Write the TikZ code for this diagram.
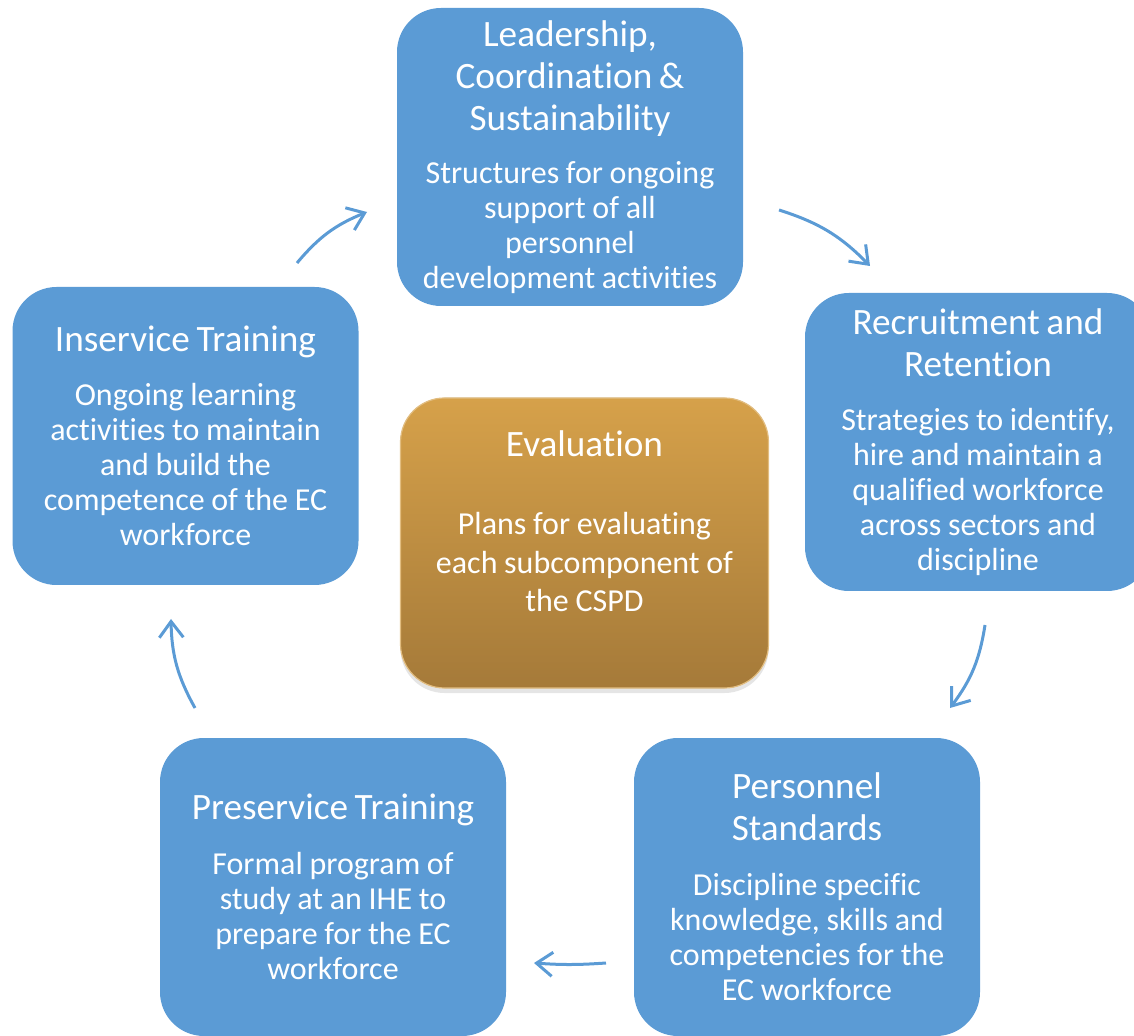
\documentclass[tikz,border=0pt]{standalone}
\usepackage{fontspec}
\setmainfont{Carlito}[Ligatures=NoCommon]
\usepackage{tikz}
\usetikzlibrary{arrows.meta,shadows}
\definecolor{boxblue}{RGB}{91,155,213}
\definecolor{evaltop}{RGB}{214,161,74}
\definecolor{evalbot}{RGB}{165,122,57}
\newcommand{\ttl}{\fontsize{18.6}{21}\selectfont}
\newcommand{\bdy}{\fontsize{16}{17.5}\selectfont}

\begin{document}
\begin{tikzpicture}[x=0.5pt,y=-0.5pt]
    \tikzset{block/.style = {shape=rectangle,rounded corners=22pt,fill=boxblue,text=white,
      minimum width=173pt,minimum height=149pt,text width=168pt,align=center,inner sep=0pt}}
    \tikzset{evalbox/.style = {block,top color=evaltop,bottom color=evalbot,draw=evaltop!70!white,
      line width=0.6pt,minimum width=184pt,minimum height=145pt,
      drop shadow={shadow xshift=0pt,shadow yshift=-2.5pt,fill=black!20}}}
    \tikzset{edge/.style = {-{Straight Barb[length=8pt,width=12pt]},draw=boxblue,line width=1.5pt,bend left=14}}

    \clip (0,0) rectangle (1134,1036);

    \node[block] (lead) at (570,157) {{\ttl Leadership,\\Coordination \&\\Sustainability\par}\vspace{9pt}
      {\bdy Structures for ongoing\\support of all\\personnel\\development activities\par}};
    \node[block] (recr) at (978,442) {{\ttl Recruitment and\\Retention\par}\vspace{9.5pt}
      {\bdy Strategies to identify,\\hire and maintain a\\qualified workforce\\across sectors and\\discipline\par}};
    \node[block] (pers) at (807,887) {{\ttl Personnel\\Standards\par}\vspace{10pt}
      {\bdy Discipline specific\\knowledge, skills and\\competencies for the\\EC workforce\par}};
    \node[block] (pres) at (333,887) {{\ttl Preservice Training\par}\vspace{10pt}
      {\bdy Formal program of\\study at an IHE to\\prepare for the EC\\workforce\par}};
    \node[block] (inserv) at (185.5,436) {{\ttl Inservice Training\par}\vspace{9.5pt}
      {\bdy Ongoing learning\\activities to maintain\\and build the\\competence of the EC\\workforce\par}};
    \node[evalbox] (eval) at (584.5,543) {{\ttl Evaluation\par}\vspace{20pt}
      {\fontsize{16}{19.25}\selectfont Plans for evaluating\\each subcomponent of\\the CSPD\par}\vspace*{22pt}};

    \coordinate (a1s) at (297,263);
    \coordinate (a1e) at (367,212);
    \coordinate (a2s) at (779,210);
    \coordinate (a2e) at (870,266);
    \coordinate (a3s) at (985,625);
    \coordinate (a3e) at (950,708);
    \coordinate (a4s) at (606,963);
    \coordinate (a4e) at (534,963);
    \coordinate (a5s) at (195,708);
    \coordinate (a5e) at (171,619);

    \draw[edge] (a1s) to (a1e);
    \draw[edge] (a2s) to (a2e);
    \draw[edge] (a3s) to (a3e);
    \draw[edge,bend left=4] (a4s) to (a4e);
    \draw[edge] (a5s) to (a5e);

\end{tikzpicture}
\end{document}
